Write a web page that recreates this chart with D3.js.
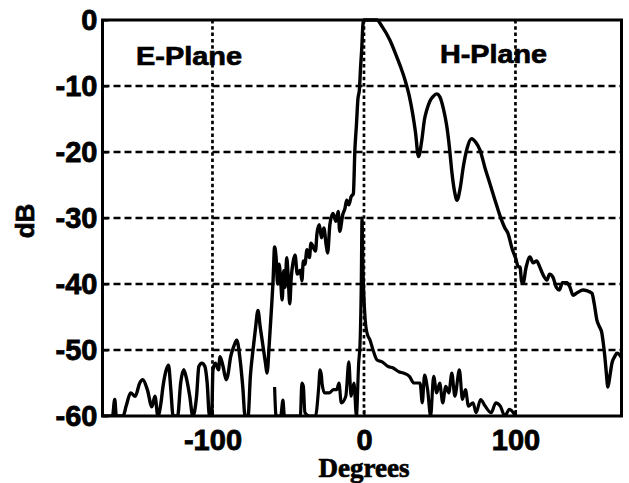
<!DOCTYPE html>
<html>
<head>
<meta charset="utf-8">
<script src="https://cdn.jsdelivr.net/npm/d3@7/dist/d3.min.js"></script>
<style>
  html, body { margin: 0; padding: 0; background: #fff; }
  svg { display: block; }
</style>
</head>
<body>
<svg id="chart" width="629" height="483"></svg>
<script>
// Radiation pattern: co-polar E-plane (negative angles) / H-plane (positive angles)
const coPolDeg = [
  -172.6, -166, -164.5, -163.5, -159, -157, -154, -151, -148, -146, -143, -140, -138, -136, -134,
  -132.7, -130.5, -129, -127.5, -126, -123, -121, -119, -117, -115, -113, -110.5, -109, -107, -105,
  -103.5, -102, -100.5, -99.7, -98, -96, -95, -93, -91, -90, -88, -86, -84, -82, -80, -78.5, -76.5,
  -75, -73, -71.5, -70, -68.5, -66.6, -65, -64, -62.5, -61, -60, -59, -58, -57, -56, -55, -54, -53,
  -52, -51, -50, -49, -48, -47, -45.5, -44, -42, -41, -40, -39, -37.6, -36, -35, -32, -31, -29.5,
  -28, -26.5, -25, -24, -22.5, -20.5, -18.5, -17, -16, -14, -12.5, -11.4, -10, -8.5, -7, -6, -5,
  -4, -3, -2.2, -1.5, -0.6, 0,
  4, 8.5, 12, 17, 21, 24, 27, 30, 32, 34, 36, 38, 40, 41.5, 43.5, 45.6, 48, 50, 52.5, 54.6, 56.5,
  58, 59.8, 61.4, 63.5, 65.6, 68, 71, 74, 76.6, 80, 83, 86.5, 90, 93, 95, 98, 100, 102, 103, 104,
  105, 107, 109.6, 111.6, 114, 116, 118, 120.8, 122.5, 124.8, 127, 129, 131, 134, 136, 138, 141,
  144.6, 147, 150.5, 152, 153.8, 155.5, 157, 158, 159, 160, 161, 162.3, 163.7, 165.5, 167, 169.6, 170
];
const coPolDb = [
  -60, -60, -57.5, -60, -60, -58.5, -56.5, -57, -55, -54.5, -56, -58.6, -57, -60, -58,
  -55.6, -53, -52.3, -56, -60, -60, -55, -53, -54.5, -57, -60, -57, -52.5, -52, -52.5,
  -55, -60, -60, -53, -52, -53, -51, -52.5, -54.5, -54, -51, -49.5, -48.5, -51, -55.6, -60, -60,
  -54, -49.5, -46.5, -44, -46.5, -49.5, -52, -53.5, -49, -43.5, -39.5, -34.4, -36, -40, -37, -39.5, -42.4, -38,
  -40.5, -36, -39, -43, -39, -37, -35.6, -38.5, -37.9, -39.5, -36.5, -37, -34.8, -36, -33.8, -35, -32.3, -31,
  -33, -31.5, -34, -35.3, -31, -29.3, -30.5, -29, -32, -29.5, -28.5, -27.3, -28, -26.8, -26.3, -19.7, -16,
  -12, -10.5, -7, -4.5, -0.5, 0,
  0, 0, -1, -3, -5.2, -7, -9, -11.6, -14, -17, -20.7, -18.5, -15, -13.6, -12.3, -11.6, -11.2, -11.6, -13.5, -16, -19.5,
  -23, -26, -27.3, -25.5, -22.2, -19.5, -18, -18.6, -19.7, -22.5, -24.7, -27.3, -29.8, -31.5, -32.3, -34.8, -36, -37.4, -37.4, -39.5,
  -39.9, -37.5, -35.9, -36.8, -36.5, -37.4, -38.5, -39.4, -38.5, -39, -40.5, -40.9, -39.8, -39.8, -40.5, -41.7, -41.3,
  -40.9, -41, -41.4, -43, -45.5, -46.5, -47.4, -49, -51, -53.5, -55.6, -54, -52, -51, -50.5, -51, -51.2
];

// Cross-polar level
const crossPolDeg = [
  -59, -58, -55, -53.5, -52.5, -42, -41, -40, -39, -36, -32, -30, -29, -28, -27.7, -26, -23, -20,
  -18, -16.5, -15, -12, -10, -8.5, -6.6, -5, -3.5, -2.6, -1.8, -1.3, -0.6, 0.7, 2, 4, 6, 8.6, 12,
  16, 19, 23, 26, 30, 33, 37, 38.5, 40, 42, 44, 46, 48, 50, 52, 54, 56, 58, 60, 63, 65, 67, 69, 72,
  74, 77, 80, 84, 87, 90, 93, 96, 100
];
const crossPolDb = [
  -55.6, -60, -60, -57.6, -60, -60, -55, -55.5, -59.5, -60, -60, -56, -53, -54, -55, -56.5, -56.5, -56,
  -56, -55, -58, -57, -51.8, -57, -55, -60, -52, -49, -40, -30, -38, -45, -47.4, -48.5, -50, -51.5, -51.8,
  -52.5, -52.7, -53.3, -53.5, -54, -55, -55, -58, -53.8, -56, -60, -54, -56.5, -55, -58, -55.5, -56.5, -53.5, -57, -53, -57.5, -56, -58.5, -58,
  -59.5, -57.5, -58.5, -59.5, -58, -58.5, -60, -59, -60
];

const xTicks = [-100, 0, 100];
const yTicks = [0, -10, -20, -30, -40, -50, -60];

const plotLeft = 102.5, plotRight = 621.5, plotTop = 20, plotBottom = 416;
const svg = d3.select("#chart");

const x = d3.scaleLinear().domain([-172.6, 170]).range([plotLeft, plotRight]);
const y = d3.scaleLinear().domain([-60, 0]).range([plotBottom, plotTop]);

// grid
const grid = svg.append("g").attr("stroke", "#000").attr("stroke-width", 2.7).attr("fill", "none");
grid.selectAll("line.h").data(yTicks.filter(v => v !== 0 && v !== -60)).join("line")
  .attr("class", "h")
  .attr("x1", plotLeft).attr("x2", plotRight)
  .attr("y1", d => y(d)).attr("y2", d => y(d))
  .attr("stroke-dasharray", "7,4");
grid.selectAll("line.v").data(xTicks).join("line")
  .attr("class", "v")
  .attr("x1", d => x(d)).attr("x2", d => x(d))
  .attr("y1", plotTop).attr("y2", plotBottom)
  .attr("stroke-dasharray", "3.5,2.8");

// clip for curves
svg.append("clipPath").attr("id", "plotClip")
  .append("rect").attr("x", plotLeft).attr("y", plotTop - 2)
  .attr("width", plotRight - plotLeft).attr("height", plotBottom - plotTop + 2);

const lineGen = d3.line().x(d => x(d[0])).y(d => y(d[1])).curve(d3.curveMonotoneX);

const plot = svg.append("g").attr("clip-path", "url(#plotClip)");
plot.append("path")
  .datum(crossPolDeg.map((d, i) => [d, crossPolDb[i]]))
  .attr("d", lineGen)
  .attr("fill", "none").attr("stroke", "#000").attr("stroke-width", 3.2)
  .attr("stroke-linejoin", "round");
plot.append("path")
  .datum(coPolDeg.map((d, i) => [d, coPolDb[i]]))
  .attr("d", lineGen)
  .attr("fill", "none").attr("stroke", "#000").attr("stroke-width", 3.4)
  .attr("stroke-linejoin", "round");

// frame
svg.append("rect")
  .attr("x", plotLeft).attr("y", plotTop)
  .attr("width", plotRight - plotLeft).attr("height", plotBottom - plotTop)
  .attr("fill", "none").attr("stroke", "#000").attr("stroke-width", 3);

// axes
const tickFont = g => g.selectAll("text")
  .attr("font-family", "'Liberation Sans', Arial, sans-serif")
  .attr("font-weight", "bold").attr("font-size", 29).attr("fill", "#000")
  .attr("stroke", "#000").attr("stroke-width", 0.8);

const yAxis = svg.append("g").attr("transform", `translate(${plotLeft},0)`)
  .call(d3.axisLeft(y).tickValues(yTicks).tickFormat(d => String(d))
    .tickSizeInner(-6).tickSizeOuter(0).tickPadding(5));
yAxis.select(".domain").remove();
yAxis.selectAll("line").attr("stroke-width", 2);
yAxis.call(tickFont);

const xAxis = svg.append("g").attr("transform", `translate(0,${plotBottom})`)
  .call(d3.axisBottom(x).tickValues(xTicks).tickFormat(d => String(d))
    .tickSizeInner(-6).tickSizeOuter(0).tickPadding(13));
xAxis.select(".domain").remove();
xAxis.selectAll("line").attr("stroke-width", 2);
xAxis.call(tickFont);

// labels
const heavy = sel => sel.attr("stroke", "#000").attr("stroke-width", 0.7);

svg.append("text").text("dB")
  .attr("transform", "translate(34,221) rotate(-90)")
  .attr("text-anchor", "middle")
  .attr("font-family", "'Liberation Sans', Arial, sans-serif")
  .attr("font-weight", "bold").attr("font-size", 26)
  .call(heavy);

svg.append("text").text("Degrees")
  .attr("x", 364).attr("y", 477).attr("text-anchor", "middle")
  .attr("font-family", "'Liberation Serif', 'Times New Roman', serif")
  .attr("font-weight", "bold").attr("font-size", 27)
  .call(heavy);

svg.append("text").text("E-Plane")
  .attr("x", 136).attr("y", 65)
  .attr("textLength", 106).attr("lengthAdjust", "spacingAndGlyphs")
  .attr("font-family", "'Liberation Sans', Arial, sans-serif")
  .attr("font-weight", "bold").attr("font-size", 26)
  .call(heavy);

svg.append("text").text("H-Plane")
  .attr("x", 440).attr("y", 63)
  .attr("textLength", 107).attr("lengthAdjust", "spacingAndGlyphs")
  .attr("font-family", "'Liberation Sans', Arial, sans-serif")
  .attr("font-weight", "bold").attr("font-size", 26)
  .call(heavy);
</script>
</body>
</html>
